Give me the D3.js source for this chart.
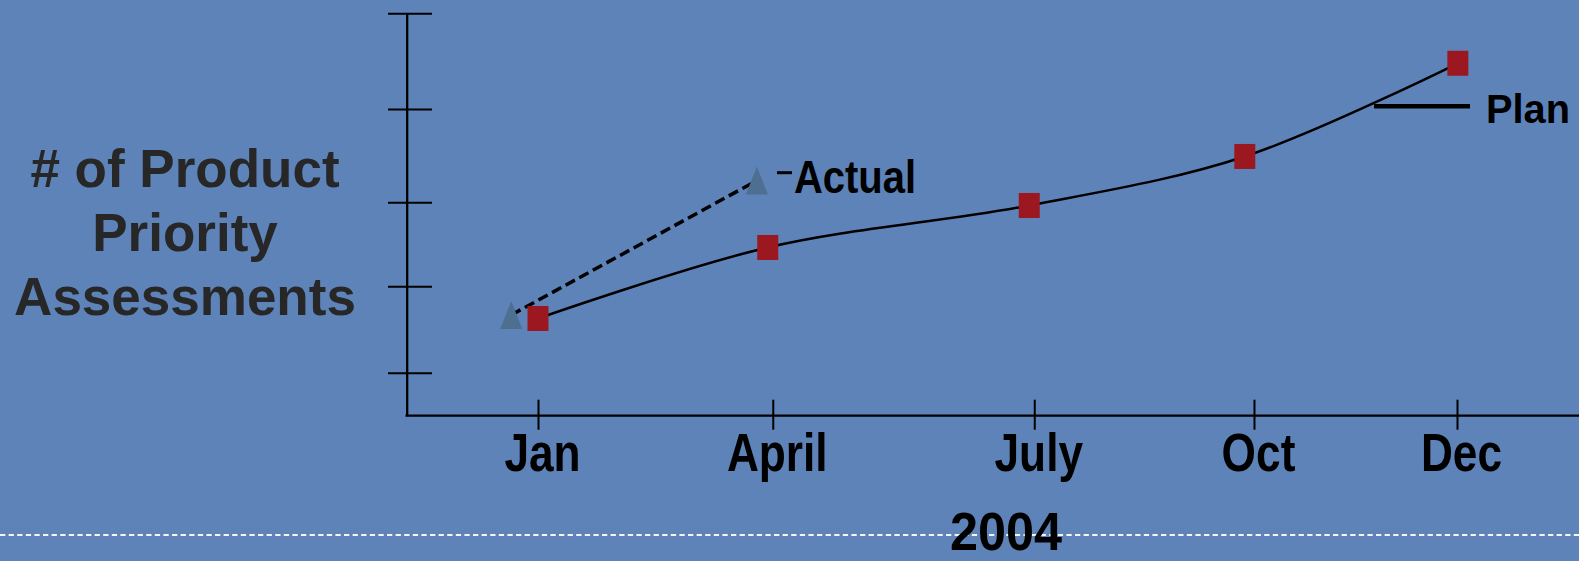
<!DOCTYPE html>
<html><head><meta charset="utf-8">
<script src="https://cdn.jsdelivr.net/npm/d3@7"></script>
<style>
html,body{margin:0;padding:0;background:#5e83b8;}
svg{display:block;}
text{font-family:"Liberation Sans",Arial,sans-serif;font-weight:bold;}
</style></head><body>
<svg id="c" width="1579" height="561"></svg>
<script>
// ---- data ----
const months = ["Jan", "April", "July", "Oct", "Dec"];
const monthPos = [0, 2.81, 5.94, 8.57, 11];          // tick positions (months from Jan)
const planX = [0, 2.75, 5.88, 8.46, 11.01];
const planY = [1.208, 2.09, 2.612, 3.221, 4.379];
const actualX = [-0.32, 2.62];
const actualY = [1.252, 2.922];
const yTickValues = [0.534, 1.608, 2.652, 3.811, 5];
const titleLines = ["# of Product", "Priority", "Assessments"];
const yearLabel = "2004";
const seriesNames = ["Actual", "Plan"];

const W = 1579, H = 561;
const svg = d3.select("#c");
svg.append("rect").attr("width", W).attr("height", H).attr("fill", "#5e83b8");

const x = d3.scaleLinear().domain([0, 11]).range([538, 1457]);
const y = d3.scaleLinear().domain([0, 5]).range([415.7, 13.3]);

// footer dashed line
svg.append("line").attr("x1", 0).attr("x2", W).attr("y1", 535).attr("y2", 535)
  .attr("stroke", "#f4f6fa").attr("stroke-width", 2).attr("stroke-dasharray", "5.3,3.3");

// y title
const tg = svg.append("g");
titleLines.forEach((t, i) => {
  tg.append("text").attr("x", 185).attr("y", 187.3 + i * 64)
    .attr("text-anchor", "middle").attr("font-size", 53).attr("fill", "#272727").text(t);
});

// y axis
const gy = svg.append("g").attr("transform", "translate(406.7,0)")
  .call(d3.axisLeft(y).tickValues(yTickValues).tickFormat("").tickSizeOuter(0));
gy.select(".domain").attr("stroke", "#000").attr("stroke-width", 2.3);
gy.selectAll(".tick line").attr("x1", 25.3).attr("x2", -18.7).attr("stroke", "#000").attr("stroke-width", 2);

// x axis baseline
svg.append("line").attr("x1", 405.5).attr("x2", W).attr("y1", 415.7).attr("y2", 415.7)
  .attr("stroke", "#000").attr("stroke-width", 2.3);

const gx = svg.append("g").attr("transform", "translate(0,415.7)")
  .call(d3.axisBottom(x).tickValues(monthPos).tickFormat((d, i) => months[i]).tickSizeOuter(0));
gx.select(".domain").remove();
gx.selectAll(".tick line").attr("y1", -16).attr("y2", 14).attr("stroke", "#000").attr("stroke-width", 2);
gx.selectAll(".tick text").attr("y", 55.5).attr("dy", 0).attr("x", 4 / 0.835)
  .attr("font-size", 53).attr("fill", "#000").attr("font-family", "'Liberation Sans',Arial,sans-serif")
  .attr("font-weight", "bold").attr("transform", "scale(0.835,1)");

// year label
svg.append("text").attr("x", 1006).attr("y", 549.5).attr("text-anchor", "middle")
  .attr("font-size", 53).attr("fill", "#000").attr("textLength", 112)
  .attr("lengthAdjust", "spacingAndGlyphs").text(yearLabel);

// plan line
const planData = planX.map((v, i) => ({x: v, y: planY[i]}));
const actualData = actualX.map((v, i) => ({x: v, y: actualY[i]}));

svg.append("path").datum(planData)
  .attr("d", d3.line().x(d => x(d.x)).y(d => y(d.y)).curve(d3.curveCatmullRom.alpha(0.5)))
  .attr("fill", "none").attr("stroke", "#000").attr("stroke-width", 2.5);

svg.append("path").datum(actualData)
  .attr("d", d3.line().x(d => x(d.x)).y(d => y(d.y)))
  .attr("fill", "none").attr("stroke", "#000").attr("stroke-width", 3.5)
  .attr("stroke-dasharray", "10.5,5");

// markers
svg.selectAll("path.tri").data(actualData).enter().append("path").attr("class", "tri")
  .attr("d", d => {
    const cx = x(d.x), cy = y(d.y);
    return `M${cx},${cy - 14}L${cx + 11},${cy + 14}L${cx - 11},${cy + 14}Z`;
  })
  .attr("fill", "#4e6f90");

svg.selectAll("rect.sq").data(planData).enter().append("rect").attr("class", "sq")
  .attr("x", d => x(d.x) - 10.5).attr("y", d => y(d.y) - 12.5)
  .attr("width", 21).attr("height", 25).attr("fill", "#9b1820");

// legend labels
svg.append("line").attr("x1", 777).attr("x2", 792).attr("y1", 172.7).attr("y2", 172.7)
  .attr("stroke", "#000").attr("stroke-width", 3);
svg.append("text").attr("x", 794).attr("y", 192.7).attr("font-size", 45.6).attr("fill", "#000")
  .attr("textLength", 122).attr("lengthAdjust", "spacingAndGlyphs").text(seriesNames[0]);

svg.append("line").attr("x1", 1374).attr("x2", 1470).attr("y1", 106.3).attr("y2", 106.3)
  .attr("stroke", "#000").attr("stroke-width", 4.5);
svg.append("text").attr("x", 1486).attr("y", 122.7).attr("font-size", 41).attr("fill", "#000")
  .attr("textLength", 84).attr("lengthAdjust", "spacingAndGlyphs").text(seriesNames[1]);
</script>
</body></html>
